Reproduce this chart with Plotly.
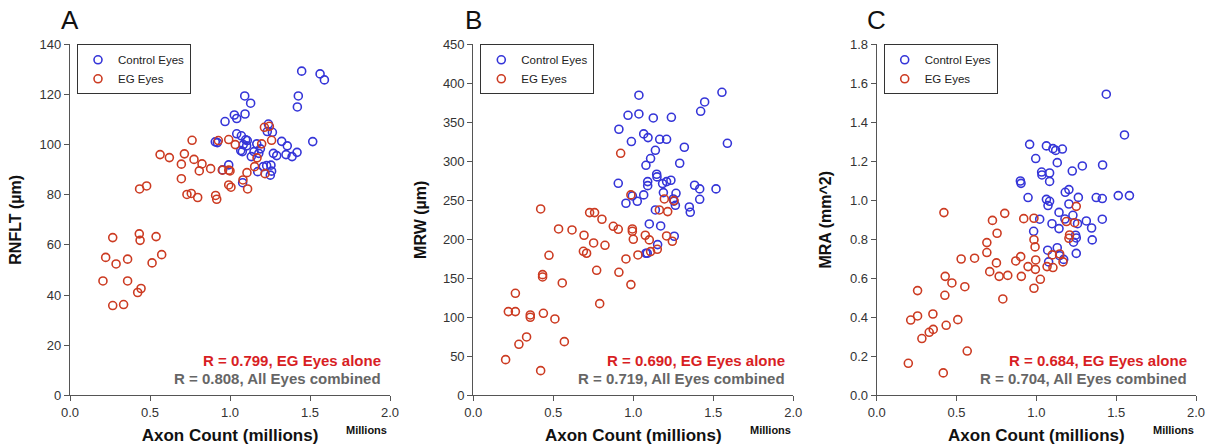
import plotly.graph_objects as go

# ---------------- data ----------------
# Panel A : RNFLT (um) vs axon count (millions)
a_ctrl_x = [1.448, 1.563, 1.590, 1.427, 1.421, 1.517, 1.419, 1.388, 1.350, 1.358, 1.323, 1.292,
            1.271, 1.265, 1.240, 1.233, 1.092, 1.129, 0.969, 1.027, 1.042, 1.094, 0.908, 0.921,
            1.042, 1.071, 1.098, 1.108, 1.083, 1.104, 1.067, 1.077, 1.133, 1.150, 1.167, 1.190,
            0.992, 0.954, 1.079, 1.173, 1.208, 1.229, 1.256, 1.260, 1.252, 1.180]
a_ctrl_y = [129.3, 128.2, 125.8, 119.4, 115.0, 101.2, 96.9, 95.2, 96.0, 99.5, 101.3, 95.6,
            96.5, 104.9, 108.2, 105.2, 119.4, 116.5, 109.2, 111.8, 110.4, 112.2, 101.1, 100.8,
            104.3, 103.5, 101.9, 101.6, 100.0, 99.5, 97.6, 97.2, 95.2, 97.2, 100.3, 98.3,
            91.9, 89.9, 84.8, 89.2, 91.2, 91.6, 91.8, 89.4, 87.8, 96.5]
a_eg_x = [0.267, 0.223, 0.288, 0.360, 0.206, 0.360, 0.267, 0.335, 0.433, 0.438, 0.538, 0.573,
          0.513, 0.423, 0.444, 0.435, 0.479, 0.563, 0.621, 0.763, 0.715, 0.696, 0.775, 0.825,
          0.808, 0.879, 0.696, 0.731, 0.758, 0.798, 0.910, 0.917, 0.927, 0.992, 1.033, 0.952,
          0.992, 1.000, 0.992, 1.006, 1.081, 1.106, 1.110, 1.154, 1.169, 1.198, 1.215, 1.246,
          1.260, 1.219]
a_eg_y = [62.9, 55.0, 52.4, 54.3, 45.6, 45.6, 35.8, 36.2, 64.4, 61.8, 63.3, 56.1,
          52.8, 41.0, 42.6, 82.3, 83.5, 96.0, 94.8, 101.7, 96.3, 92.2, 94.1, 92.3,
          89.5, 90.4, 86.4, 80.1, 80.5, 78.9, 79.7, 78.2, 101.6, 102.0, 100.0, 89.8,
          89.8, 89.5, 83.9, 83.0, 85.9, 88.8, 82.3, 91.2, 94.7, 100.3, 106.9, 107.3,
          101.7, 88.4]

# Panel B : MRW (um) vs axon count (millions)
b_ctrl_x = [1.035, 0.967, 1.035, 1.125, 1.238, 0.910, 0.988, 1.065, 1.092, 1.165, 1.208, 1.319,
            1.138, 1.108, 1.079, 1.290, 1.554, 1.446, 1.421, 1.588, 0.906, 1.146, 1.148, 1.090,
            1.090, 1.183, 1.208, 1.235, 1.188, 1.267, 1.383, 1.415, 1.517, 1.415, 0.954, 0.994,
            1.025, 1.065, 1.250, 1.254, 1.263, 1.138, 1.350, 1.356, 1.100, 1.171, 1.256, 1.152,
            1.079, 1.087]
b_ctrl_y = [384.7, 359.0, 360.7, 355.6, 356.4, 341.1, 325.3, 335.1, 330.4, 328.2, 328.2, 318.0,
            314.1, 303.5, 294.9, 297.5, 388.5, 376.1, 364.1, 323.1, 271.8, 283.4, 280.0, 274.0,
            268.8, 271.4, 274.0, 275.7, 259.9, 259.0, 269.3, 264.6, 264.6, 251.3, 246.2, 255.6,
            248.7, 256.9, 251.7, 249.0, 243.6, 237.6, 241.5, 234.6, 219.7, 217.1, 203.9, 193.2,
            182.1, 182.1]
b_eg_x = [0.202, 0.219, 0.263, 0.263, 0.285, 0.333, 0.356, 0.356, 0.421, 0.421, 0.438, 0.433,
          0.433, 0.473, 0.510, 0.533, 0.556, 0.569, 0.617, 0.692, 0.688, 0.708, 0.727, 0.758,
          0.752, 0.771, 0.790, 0.804, 0.823, 0.875, 0.906, 0.921, 0.910, 0.954, 0.985, 0.994,
          0.994, 1.000, 0.985, 1.029, 1.075, 1.100, 1.108, 1.150, 1.163, 1.194, 1.215, 1.208,
          1.244, 1.254]
b_eg_y = [45.7, 107.3, 107.3, 130.8, 65.4, 74.8, 103.0, 100.0, 238.9, 31.6, 105.1, 154.7,
          151.7, 179.5, 97.9, 213.3, 144.0, 68.8, 212.0, 205.2, 184.6, 182.1, 234.2, 234.2,
          195.3, 160.3, 117.5, 225.7, 192.3, 216.7, 212.8, 310.3, 157.7, 174.8, 256.9, 213.3,
          210.3, 200.0, 141.9, 179.9, 205.2, 199.2, 184.2, 187.2, 237.6, 251.7, 235.5, 204.3,
          197.5, 249.6]

# Panel C : MRA (mm^2) vs axon count (millions)
c_ctrl_x = [1.438, 1.552, 0.958, 1.063, 1.104, 1.121, 1.163, 0.996, 1.131, 1.288, 1.415, 1.225,
            1.033, 1.035, 1.083, 1.083, 0.900, 0.904, 1.181, 1.204, 0.948, 1.063, 1.083, 1.073,
            1.263, 1.204, 1.375, 1.413, 1.513, 1.583, 1.142, 1.229, 1.021, 1.098, 1.179, 1.313,
            1.413, 1.142, 1.258, 1.346, 0.983, 1.246, 1.250, 1.233, 1.350, 1.071, 1.131, 1.250,
            1.077, 1.146, 1.171]
c_ctrl_y = [1.544, 1.335, 1.287, 1.279, 1.265, 1.256, 1.263, 1.214, 1.193, 1.176, 1.181, 1.150,
            1.145, 1.130, 1.140, 1.097, 1.099, 1.087, 1.041, 1.055, 1.014, 1.005, 0.995, 0.973,
            1.015, 0.981, 1.014, 1.009, 1.024, 1.024, 0.938, 0.923, 0.903, 0.880, 0.904, 0.894,
            0.903, 0.855, 0.880, 0.858, 0.841, 0.821, 0.807, 0.785, 0.797, 0.744, 0.757, 0.728,
            0.684, 0.716, 0.697]
c_eg_x = [0.198, 0.213, 0.256, 0.256, 0.283, 0.329, 0.354, 0.352, 0.421, 0.417, 0.429, 0.427,
          0.435, 0.471, 0.508, 0.529, 0.552, 0.567, 0.613, 0.690, 0.690, 0.708, 0.725, 0.754,
          0.750, 0.767, 0.790, 0.802, 0.821, 0.871, 0.902, 0.921, 0.906, 0.948, 0.985, 0.985,
          0.992, 0.994, 0.985, 0.996, 1.025, 1.067, 1.100, 1.104, 1.146, 1.167, 1.188, 1.204,
          1.208, 1.250, 1.240]
c_eg_y = [0.164, 0.386, 0.407, 0.537, 0.291, 0.323, 0.338, 0.417, 0.937, 0.115, 0.610, 0.513,
          0.359, 0.576, 0.388, 0.699, 0.557, 0.227, 0.703, 0.783, 0.732, 0.634, 0.897, 0.831,
          0.679, 0.610, 0.494, 0.933, 0.615, 0.689, 0.711, 0.906, 0.610, 0.660, 0.908, 0.798,
          0.761, 0.646, 0.549, 0.694, 0.595, 0.660, 0.720, 0.655, 0.725, 0.684, 0.891, 0.805,
          0.822, 0.969, 0.885]

panel_letters = ["A", "B", "C"]
y_titles = ["RNFLT (µm)", "MRW (µm)", "MRA (mm^2)"]
y_ranges = [[0, 140], [0, 450], [0, 1.8]]
y_dticks = [20, 50, 0.2]
y_formats = ["d", "d", ".1f"]
r_eg = ["R = 0.799, EG Eyes alone", "R = 0.690, EG Eyes alone", "R = 0.684, EG Eyes alone"]
r_all = ["R = 0.808, All Eyes combined", "R = 0.719, All Eyes combined", "R = 0.704, All Eyes combined"]
x_ticks = [0.0, 0.5, 1.0, 1.5, 2.0]
x_tick_text = ["0.0", "0.5", "1.0", "1.5", "2.0"]

ctrl_sets = [(a_ctrl_x, a_ctrl_y), (b_ctrl_x, b_ctrl_y), (c_ctrl_x, c_ctrl_y)]
eg_sets = [(a_eg_x, a_eg_y), (b_eg_x, b_eg_y), (c_eg_x, c_eg_y)]

# ---------------- styling ----------------
W, H = 1207, 446
FONT = "Liberation Sans, Arial, Helvetica, sans-serif"
BLUE = "#3535d8"
RED = "#cc3b22"
R_RED = "#d81e24"
R_GRAY = "#666666"
AX = "#555555"

# pixel geometry of the three plot areas
px_left = [70.0, 473.3, 876.7]
px_right = [390.0, 793.3, 1196.0]
px_top, px_bottom = 44.3, 395.3
y_title_standoff = [13, 12, 14]

fig = go.Figure()
layout = dict(
    width=W, height=H,
    margin=dict(l=0, r=0, t=0, b=0, pad=0),
    paper_bgcolor="white", plot_bgcolor="white",
    font=dict(family=FONT, size=13, color="#333333"),
    annotations=[],
)

for i in range(3):
    sfx = "" if i == 0 else str(i + 1)
    leg = "legend" if i == 0 else "legend" + str(i + 1)
    xa, ya = "x" + sfx, "y" + sfx
    cx, cy = ctrl_sets[i]
    ex, ey = eg_sets[i]
    fig.add_trace(go.Scatter(x=cx, y=cy, mode="markers", name="Control Eyes",
                             xaxis=xa, yaxis=ya, legend=leg,
                             marker=dict(symbol="circle-open", size=8, color=BLUE,
                                         line=dict(width=1.6, color=BLUE))))
    fig.add_trace(go.Scatter(x=ex, y=ey, mode="markers", name="EG Eyes",
                             xaxis=xa, yaxis=ya, legend=leg,
                             marker=dict(symbol="circle-open", size=8, color=RED,
                                         line=dict(width=1.6, color=RED))))

    x0 = px_left[i] / W
    x1 = px_right[i] / W
    y0 = 1 - px_bottom / H
    y1 = 1 - px_top / H
    layout["xaxis" + sfx] = dict(
        domain=[x0, x1], range=[0, 2.0], anchor=ya, automargin=False,
        tickvals=x_ticks, ticktext=x_tick_text,
        showline=True, linecolor=AX, linewidth=1.2,
        ticks="outside", ticklen=5, tickcolor=AX, tickwidth=1.2,
        showgrid=False, zeroline=False,
        tickfont=dict(size=13, color="#333333"),
        title=dict(text="<b>Axon Count (millions)</b>", standoff=10,
                   font=dict(size=17, color="#111111")),
    )
    layout["yaxis" + sfx] = dict(
        domain=[y0, y1], range=y_ranges[i], anchor=xa, automargin=False,
        dtick=y_dticks[i], tick0=0, tickformat=y_formats[i],
        showline=True, linecolor=AX, linewidth=1.2,
        ticks="outside", ticklen=5, tickcolor=AX, tickwidth=1.2,
        showgrid=False, zeroline=False,
        tickfont=dict(size=13, color="#333333"),
        title=dict(text="<b>" + y_titles[i] + "</b>", standoff=y_title_standoff[i],
                   font=dict(size=16, color="#111111")),
    )
    layout[leg] = dict(
        x=(px_left[i] + 7) / W, y=1 - px_top / H, xanchor="left", yanchor="top",
        bgcolor="white", bordercolor="#333333", borderwidth=1,
        font=dict(size=11.5, color="#222222"), itemwidth=30,
        tracegroupgap=0,
    )
    # panel letter
    layout["annotations"].append(dict(
        text=panel_letters[i], xref="paper", yref="paper",
        x=px_left[i] / W, y=1 - 20 / H, xanchor="center", yanchor="middle",
        showarrow=False, font=dict(size=26, color="#111111")))
    # correlation texts
    layout["annotations"].append(dict(
        text="<b>" + r_eg[i] + "</b>", xref="paper", yref="paper",
        x=(px_right[i] - 6.7) / W, y=1 - 360.7 / H, xanchor="right", yanchor="middle",
        showarrow=False, font=dict(size=15, color=R_RED)))
    layout["annotations"].append(dict(
        text="<b>" + r_all[i] + "</b>", xref="paper", yref="paper",
        x=(px_right[i] - 6.7) / W, y=1 - 378.3 / H, xanchor="right", yanchor="middle",
        showarrow=False, font=dict(size=15, color=R_GRAY)))
    # "Millions" unit label
    layout["annotations"].append(dict(
        text="<b>Millions</b>", xref="paper", yref="paper",
        x=(px_right[i] - 23) / W, y=1 - 430 / H, xanchor="center", yanchor="middle",
        showarrow=False, font=dict(size=11, color="#111111")))

fig.update_layout(**layout)
fig.write_html("out.html",
               config={"displayModeBar": False},
               post_script="document.body.style.margin='0';document.body.style.overflow='hidden';")
